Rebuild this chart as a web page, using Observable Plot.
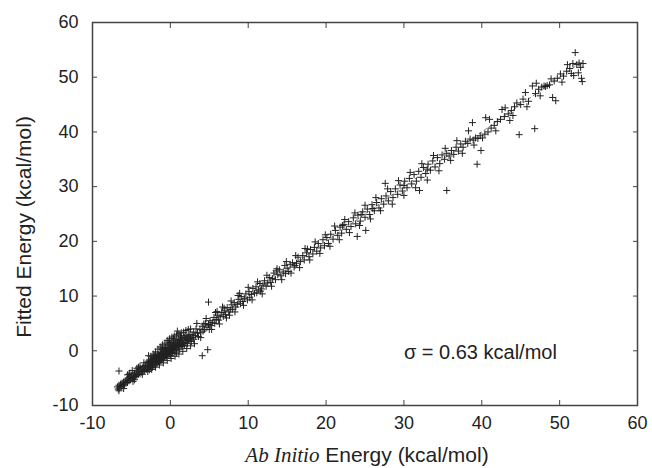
<!DOCTYPE html>
<html><head><meta charset="utf-8">
<script src="https://cdn.jsdelivr.net/npm/d3@7"></script>
<script src="https://cdn.jsdelivr.net/npm/@observablehq/plot@0.6"></script>
<style>html,body{margin:0;padding:0;background:#fff}</style>
</head><body><div id="chart"></div>
<script>
// Tick values
const xTicks = [-10, 0, 10, 20, 30, 40, 50, 60];
const yTicks = [-10, 0, 10, 20, 30, 40, 50, 60];
// Reference line (ab initio = fitted)
const refLineX = [-7, 53];
const refLineY = [-7, 53];
// Data points [ab initio, fitted] by energy range
const lowTail = [[-6.8,-6.6],[-6.7,-7.0],[-6.6,-6.3],[-6.5,-6.8],[-6.4,-6.1],[-6.3,-6.5],[-6.2,-5.9],[-6.1,-6.4],[-6.0,-5.7],[-5.9,-6.2],[-5.8,-5.5],[-5.7,-5.9],[-5.6,-5.3],[-5.5,-5.8],[-5.4,-5.0],[-5.3,-5.5],[-5.2,-4.8],[-5.1,-5.3],[-5.0,-4.6],[-4.9,-5.1],[-4.8,-4.4],[-4.7,-4.9],[-4.6,-4.1],[-4.5,-4.7],[-4.4,-3.9],[-4.3,-4.5],[-4.2,-3.7],[-4.1,-4.3],[-4.0,-3.5],[-3.9,-4.2],[-3.8,-3.3],[-3.7,-3.9],[-3.6,-3.1],[-3.5,-3.8],[-3.4,-2.9],[-3.3,-3.6],[-3.2,-2.7],[-3.1,-3.4],[-6.6,-3.7],[-4.9,-3.6],[-6.6,-7.3],[-5.2,-4.1],[-6.0,-6.9],[-4.6,-5.3],[-5.5,-4.4],[-3.9,-2.8],[-4.3,-3.2]];
const centralBlob = [[-3.0,-2.1],[-2.9,-3.3],[-2.9,-2.6],[-2.8,-1.9],[-2.8,-3.0],[-2.7,-2.4],[-2.7,-3.5],[-2.6,-1.7],[-2.6,-2.9],[-2.5,-2.2],[-2.5,-3.1],[-2.4,-1.5],[-2.4,-2.6],[-2.3,-2.0],[-2.3,-3.0],[-2.2,-1.2],[-2.2,-2.4],[-2.1,-1.8],[-2.1,-2.8],[-2.0,-1.4],[-2.0,-2.2],[-1.9,-0.9],[-1.9,-2.5],[-1.8,-1.6],[-1.8,-2.0],[-1.7,-1.1],[-1.7,-2.3],[-1.6,-1.4],[-1.6,-0.6],[-1.5,-1.9],[-1.5,-1.0],[-1.4,-2.1],[-1.4,-0.8],[-1.3,-1.5],[-1.3,-0.3],[-1.2,-1.8],[-1.2,-1.0],[-1.1,-0.5],[-1.1,-1.6],[-1.0,-0.9],[-1.0,0.2],[-0.9,-1.4],[-0.9,-0.4],[-0.8,-0.9],[-0.8,0.4],[-0.7,-1.2],[-0.7,-0.2],[-0.6,-0.7],[-0.6,0.6],[-0.5,-1.0],[-0.5,0.1],[-0.4,-0.4],[-0.4,0.9],[-0.3,-0.8],[-0.3,0.3],[-0.2,-0.2],[-0.2,1.1],[-0.1,-0.6],[-0.1,0.5],[0.0,0.0],[0.0,1.3],[0.0,-0.9],[0.1,0.6],[0.1,-0.3],[0.2,1.5],[0.2,0.2],[0.3,-0.5],[0.3,0.9],[0.4,0.4],[0.4,1.8],[0.5,-0.2],[0.5,1.1],[0.6,0.6],[0.6,2.0],[0.7,0.1],[0.7,1.3],[0.8,0.8],[0.8,-0.4],[0.9,1.6],[0.9,3.6],[1.0,0.5],[1.0,1.2],[1.1,2.1],[1.1,0.9],[1.2,1.5],[1.2,0.3],[1.3,1.9],[1.4,1.1],[1.4,2.4],[1.5,1.6],[1.5,0.8],[1.6,2.2],[1.7,1.4],[1.8,2.5],[1.8,1.0],[1.9,1.9],[2.0,2.8],[2.0,1.5],[2.1,2.2],[2.2,1.3],[2.3,2.6],[2.4,1.9],[2.5,3.0],[2.6,2.3],[2.7,1.7],[2.8,2.9],[2.9,2.4],[3.0,3.4],[3.0,2.1],[-2.6,-2.0],[-2.0,-1.8],[-1.5,-1.5],[-1.0,-1.3],[-0.5,-0.5],[0.3,0.3],[0.8,0.2],[1.3,1.3],[-2.2,-1.7],[-1.8,-1.2],[-0.9,-0.1],[-0.3,-0.1],[0.5,0.6],[1.0,1.8],[1.6,1.0],[2.2,2.0],[-1.2,-0.5],[-0.6,-0.1],[0.2,0.7],[0.7,0.9],[-2.4,-1.9],[-1.3,-1.1],[-0.1,0.2],[4.1,-0.9],[4.8,0.2]];
const blobSpread = [[-2.8,-0.9],[-2.5,-1.0],[-2.2,-0.6],[-1.9,-0.2],[-1.6,0.3],[-1.3,0.7],[-1.0,1.1],[-0.7,1.4],[-0.4,1.9],[-0.1,2.2],[0.2,2.5],[0.5,2.7],[0.8,2.9],[1.1,3.1],[1.4,3.3],[1.7,3.4],[2.0,3.7],[2.3,3.9],[2.6,4.0],[-2.9,-3.8],[-2.4,-3.4],[-1.9,-3.0],[-1.4,-2.6],[-0.9,-2.2],[-0.4,-1.8],[0.1,-1.4],[0.6,-1.0],[1.1,-0.6],[1.6,-0.1],[2.1,0.4],[2.6,0.9],[3.1,1.3],[-2.0,-0.8],[-1.1,0.5],[-0.2,1.6],[0.4,2.2],[1.3,2.7],[-3.4,-2.2],[-3.6,-4.3],[-4.1,-3.0],[-4.8,-5.6],[-5.3,-4.3]];
const lowMid = [[3.2,2.8],[3.3,4.0],[3.5,3.2],[3.6,2.6],[3.8,3.9],[3.9,3.3],[4.1,4.5],[4.2,3.6],[4.4,3.9],[4.5,5.0],[4.7,4.3],[4.9,8.9],[4.9,4.8],[5.1,5.5],[5.2,4.6],[5.4,5.2],[5.6,6.1],[5.7,5.0],[5.9,5.7],[6.1,6.5],[6.2,5.6],[6.4,6.2],[6.6,7.0],[6.8,6.3],[7.0,7.3],[7.1,6.6],[7.3,7.9],[7.5,7.1],[7.7,7.5],[7.9,8.4],[8.0,7.6],[8.2,8.8],[8.4,8.0],[8.6,8.5],[8.8,9.4],[9.0,8.6],[9.1,9.9],[9.3,9.0],[9.5,9.6],[9.7,10.4],[9.9,9.3],[5.0,3.9],[6.0,7.2],[7.6,6.5],[8.7,10.1],[6.9,7.8],[4.3,4.9]];
const midRange = [[10.1,10.8],[10.2,9.7],[10.4,10.3],[10.6,11.4],[10.8,10.5],[11.0,11.7],[11.1,10.6],[11.3,11.1],[11.5,12.3],[11.7,11.3],[11.9,12.0],[12.1,12.8],[12.3,11.8],[12.5,12.4],[12.7,13.4],[12.9,12.5],[13.1,13.2],[13.3,14.2],[13.5,13.0],[13.8,13.9],[14.0,14.8],[14.2,13.7],[14.5,14.4],[14.7,15.6],[15.0,15.1],[15.2,14.5],[15.4,15.8],[15.7,16.1],[15.9,15.3],[16.2,16.0],[16.4,17.1],[16.7,16.3],[17.0,17.4],[17.2,16.6],[17.5,17.9],[17.8,17.2],[18.0,18.5],[18.3,17.7],[18.5,18.9],[18.8,18.2],[19.0,19.6],[19.3,18.8],[19.6,20.3],[19.8,19.2],[11.6,10.9],[13.6,14.6],[16.0,15.6],[17.6,18.6],[14.8,14.1]];
const upperMid = [[20.1,20.7],[20.3,19.6],[20.6,21.3],[20.9,20.4],[21.2,22.0],[21.5,21.1],[21.8,22.6],[22.0,21.5],[22.3,23.1],[22.6,22.2],[22.9,23.6],[23.2,22.7],[23.5,24.3],[23.8,23.2],[24.0,20.9],[24.1,24.8],[24.4,23.7],[24.7,25.4],[25.0,24.4],[25.1,22.0],[25.3,25.9],[25.6,24.9],[25.9,26.7],[26.2,25.6],[26.5,27.1],[26.8,26.1],[27.1,27.8],[27.4,26.8],[27.6,30.6],[27.7,28.3],[28.0,27.4],[28.3,29.1],[28.6,28.0],[28.9,29.6],[29.2,28.6],[29.5,30.3],[29.8,29.2],[30.1,31.0],[30.4,29.8],[30.7,31.5],[31.0,30.5],[31.3,32.2],[31.6,31.0],[31.9,32.8],[32.0,29.3],[32.2,31.7],[32.5,33.5],[32.8,32.4],[33.1,34.1],[33.4,33.0],[33.7,34.7],[34.0,33.6],[34.3,35.3],[34.6,34.2],[34.9,35.8],[35.5,29.3],[22.1,22.9],[26.0,26.0],[30.0,30.2],[33.0,33.2],[24.5,24.9]];
const highRange = [[35.2,35.0],[35.5,36.1],[35.8,35.6],[36.1,36.6],[36.4,35.9],[36.7,37.2],[37.0,36.5],[37.3,37.8],[37.6,37.2],[37.9,38.3],[38.2,37.9],[38.5,38.7],[38.8,41.7],[38.9,38.5],[39.2,38.9],[39.4,34.1],[39.5,38.8],[39.9,36.6],[39.8,39.3],[40.1,38.9],[40.4,39.6],[40.5,42.6],[40.8,40.0],[41.2,40.7],[41.6,41.2],[42.0,41.9],[42.4,42.3],[42.6,44.1],[42.9,42.8],[43.4,43.3],[43.8,43.9],[44.2,44.6],[44.5,45.3],[44.8,39.5],[45.0,45.0],[45.3,46.0],[45.6,47.2],[46.0,45.6],[46.5,48.4],[46.8,40.6],[46.9,47.0],[47.3,47.8],[47.7,48.2],[48.0,48.4],[48.2,48.3],[48.4,48.5],[48.7,48.6],[49.1,46.3],[49.5,45.7],[49.3,49.3],[49.7,49.8],[50.1,50.6],[50.5,50.2],[50.9,51.1],[51.3,51.6],[51.7,52.5],[51.8,50.3],[52.0,54.5],[52.2,52.3],[52.5,52.6],[52.7,51.8],[52.4,50.8],[52.8,49.8],[53.0,52.5],[52.9,49.2]];
const bandSpread = [[3.4,5.0],[3.9,2.4],[4.6,5.9],[5.3,3.9],[5.8,7.0],[6.3,4.9],[6.7,8.0],[7.2,6.0],[7.8,9.1],[8.3,7.1],[8.9,10.5],[9.4,8.3],[10.0,11.6],[10.5,9.3],[11.2,12.6],[11.8,10.4],[12.4,13.8],[13.0,11.8],[13.7,15.0],[14.3,13.0],[14.9,16.3],[15.5,14.2],[16.1,17.4],[16.6,15.2],[17.3,18.7],[17.9,16.6],[18.6,19.9],[19.2,17.8],[19.9,21.2],[20.5,19.1],[21.1,22.8],[21.7,20.3],[22.4,24.0],[23.0,21.6],[23.7,25.2],[24.3,22.9],[25.0,26.6],[25.7,24.1],[26.4,28.0],[27.0,25.6],[27.9,29.6],[28.5,26.8],[29.3,31.1],[30.0,28.4],[30.8,32.6],[31.5,29.8],[32.3,34.2],[33.0,31.2],[33.8,35.7],[34.5,32.9],[35.3,37.0],[36.0,34.8],[36.8,38.4],[37.5,36.1],[38.3,40.2],[39.0,37.6],[41.0,42.3],[41.8,40.2],[43.0,44.4],[43.6,42.1],[44.0,43.0],[45.8,44.6],[47.0,48.9],[47.5,46.6],[48.9,49.7],[50.3,49.1],[51.0,52.3],[51.5,50.7]];
const sigmaLabel = "σ = 0.63 kcal/mol";

const points = [...lowTail, ...centralBlob, ...blobSpread, ...lowMid, ...midRange, ...upperMid, ...highRange, ...bandSpread]
  .map(([x, y]) => ({x, y}));
const refLine = refLineX.map((x, i) => ({x, y: refLineY[i]}));

const plusSymbol = {
  draw(ctx, size) {
    const r = Math.sqrt(size / Math.PI);
    ctx.moveTo(-r, 0); ctx.lineTo(r, 0);
    ctx.moveTo(0, -r); ctx.lineTo(0, r);
  }
};

const axisColor = "#444";
const fmt = d => String(d);
const plot = Plot.plot({
  width: 652,
  height: 468,
  marginLeft: 92,
  marginRight: 15,
  marginTop: 22,
  marginBottom: 63,
  style: {fontFamily: "'Liberation Sans', Arial, sans-serif", fontSize: "18px", color: "#222", background: "#fff"},
  x: {domain: [-10, 60]},
  y: {domain: [-10, 60]},
  marks: [
    Plot.line(refLine, {x: "x", y: "y", stroke: "#666", strokeWidth: 0.8, strokeDasharray: "3,3"}),
    Plot.dot(points, {x: "x", y: "y", symbol: plusSymbol, r: 3.5, fill: "none", stroke: "#222", strokeWidth: 1}),
    Plot.text([sigmaLabel], {x: 30, y: -0.3, text: d => d, textAnchor: "start", fontSize: 20, fill: "#222"}),
    Plot.frame({stroke: axisColor, strokeWidth: 1.5}),
    Plot.axisX({anchor: "bottom", ticks: xTicks, tickSize: -5, tickPadding: 16, tickFormat: fmt, label: null, stroke: axisColor}),
    Plot.axisX({anchor: "top", ticks: xTicks, tickSize: -5, tickFormat: () => "", label: null, stroke: axisColor}),
    Plot.axisY({anchor: "left", ticks: yTicks, tickSize: -5, tickPadding: 19, tickFormat: fmt, label: null, stroke: axisColor}),
    Plot.axisY({anchor: "right", ticks: yTicks, tickSize: -5, tickFormat: () => "", label: null, stroke: axisColor})
  ]
});

const svg = d3.select(plot);
svg.append("text")
  .attr("transform", "translate(23,227) rotate(-90)")
  .attr("text-anchor", "middle")
  .attr("dominant-baseline", "central")
  .attr("font-size", 21)
  .attr("fill", "#222")
  .text("Fitted Energy (kcal/mol)");
const xt = svg.append("text")
  .attr("x", 367).attr("y", 462)
  .attr("text-anchor", "middle")
  .attr("font-size", 21)
  .attr("fill", "#222");
xt.append("tspan").attr("font-family", "'Liberation Serif', 'Times New Roman', serif").attr("font-style", "italic").text("Ab Initio");
xt.append("tspan").text(" Energy (kcal/mol)");

document.getElementById("chart").appendChild(plot);
</script>
</body></html>
